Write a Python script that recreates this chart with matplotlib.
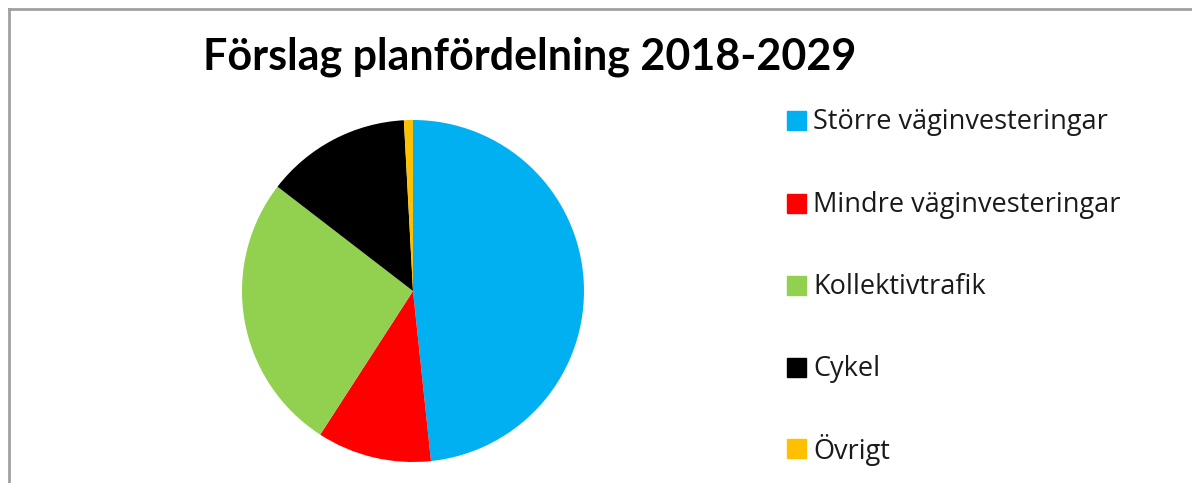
import matplotlib.pyplot as plt
from matplotlib.lines import Line2D

labels = ['Större väginvesteringar', 'Mindre väginvesteringar',
          'Kollektivtrafik', 'Cykel', 'Övrigt']
values = [48.3, 10.8, 26.3, 13.7, 0.85]
colors = ['#00B0F0', '#FF0000', '#92D050', '#000000', '#FFC000']

plt.rcParams['font.family'] = ['Lato', 'DejaVu Sans']

fig = plt.figure(figsize=(11.92, 4.83), dpi=100)

# pie axes: centre ~ (413, 291) px, radius ~ 171 px
W, H = 1192, 483
r = 171
ax = fig.add_axes([(413 - r) / W, (H - 291 - r) / H, 2 * r / W, 2 * r / H])
ax.pie(values, colors=colors, startangle=90, counterclock=False,
       wedgeprops=dict(linewidth=0))
ax.set_xlim(-1, 1)
ax.set_ylim(-1, 1)
ax.set_aspect('equal')
ax.axis('off')

fig.text(530 / W, 1 - 57 / H, 'Förslag planfördelning 2018-2029',
         ha='center', va='center', fontsize=31, fontweight='bold')

# legend
ys = [120, 203, 285, 367, 448]
for lab, col, y in zip(labels, colors, ys):
    fig.patches.append(plt.Rectangle((787 / W, 1 - (y + 10) / H), 19 / W, 19 / H,
                                     transform=fig.transFigure, color=col))
    fig.text(813 / W, 1 - (y + 2) / H, lab, ha='left', va='center', fontsize=19.5,
             color='#1a1a1a', family=['Open Sans', 'DejaVu Sans'])

# frame (left and top only, as in the cropped screenshot)
fig.add_artist(Line2D([8.5 / W, 8.5 / W], [0, 1 - 9 / H], transform=fig.transFigure,
                      color='#a0a0a0', lw=2))
fig.add_artist(Line2D([8.5 / W, 1], [1 - 9 / H, 1 - 9 / H], transform=fig.transFigure,
                      color='#a0a0a0', lw=2))

plt.savefig('out.png', dpi=100)
plt.close()
